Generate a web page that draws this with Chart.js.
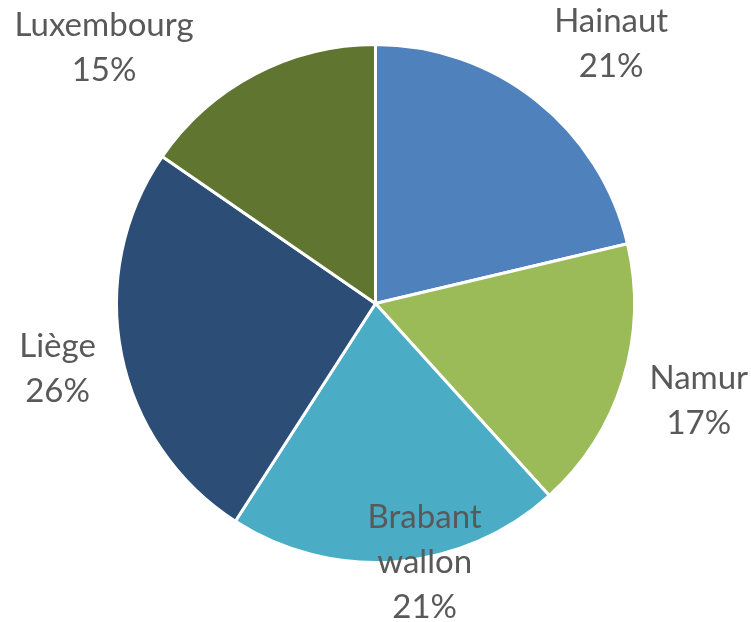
<!DOCTYPE html>
<html>
<head>
<meta charset="utf-8">
<script src="https://cdn.jsdelivr.net/npm/chart.js@4/dist/chart.umd.min.js"></script>
<style>
  html, body { margin: 0; padding: 0; background: #fff; }
  #wrap { width: 751px; height: 622px; position: relative; }
</style>
</head>
<body>
<div id="wrap"><canvas id="c" width="751" height="622"></canvas></div>
<script>
const categories = ['Hainaut', 'Namur', 'Brabant wallon', 'Liège', 'Luxembourg'];
const shares = [21.3, 17.0, 20.8, 25.5, 15.4];
const sliceColors = ['#4F81BD', '#9BBB59', '#4BACC6', '#2C4D75', '#5F7530'];

// label placement nudges (pixels) relative to the slice's outer mid-point
const labelNudges = [[75, -57], [76, 20], [28, 1], [-64, 14], [-151, -26]];

const labelFont = '33px Lato, "Open Sans", sans-serif';
const lineHeight = 45;
const capHeight = 21.5;
const wrapWidth = 160;

function wrapText(ctx, text, maxW) {
  const words = text.split(' ');
  const lines = [];
  let cur = '';
  for (const w of words) {
    const t = cur ? cur + ' ' + w : w;
    if (cur && ctx.measureText(t).width > maxW) { lines.push(cur); cur = w; }
    else cur = t;
  }
  if (cur) lines.push(cur);
  return lines;
}

const pieLabels = {
  id: 'pieLabels',
  afterDatasetsDraw(chart) {
    const ctx = chart.ctx;
    const meta = chart.getDatasetMeta(0);
    const data = chart.data.datasets[0].data;
    const total = data.reduce((a, b) => a + b, 0);
    ctx.save();
    ctx.font = labelFont;
    ctx.fillStyle = '#595959';
    ctx.textAlign = 'center';
    ctx.textBaseline = 'alphabetic';
    meta.data.forEach((arc, i) => {
      const p = arc.getProps(['x', 'y', 'startAngle', 'endAngle', 'outerRadius'], true);
      const mid = (p.startAngle + p.endAngle) / 2;
      const bx = p.x + Math.cos(mid) * p.outerRadius + labelNudges[i][0];
      const by = p.y + Math.sin(mid) * p.outerRadius + labelNudges[i][1];
      const lines = wrapText(ctx, chart.data.labels[i], wrapWidth);
      lines.push(Math.round(data[i] / total * 100) + '%');
      const h = capHeight + (lines.length - 1) * lineHeight;
      let y = by - h / 2 + capHeight;
      lines.forEach(l => { ctx.fillText(l, bx, y); y += lineHeight; });
    });
    ctx.restore();
  }
};

new Chart(document.getElementById('c'), {
  type: 'pie',
  data: {
    labels: categories,
    datasets: [{
      data: shares,
      backgroundColor: sliceColors,
      borderColor: '#FFFFFF',
      borderWidth: 3
    }]
  },
  options: {
    responsive: false,
    animation: false,
    layout: { padding: { top: 43, bottom: 58, left: 0, right: 0 } },
    plugins: { legend: { display: false }, tooltip: { enabled: false } }
  },
  plugins: [pieLabels]
});
</script>
</body>
</html>
